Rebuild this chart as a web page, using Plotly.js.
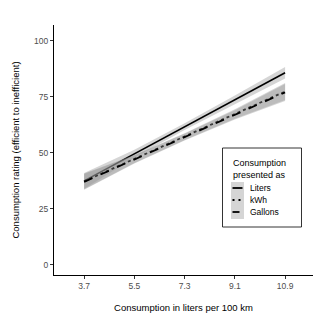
<!DOCTYPE html>
<html>
<head>
<meta charset="utf-8">
<script src="https://cdn.plot.ly/plotly-3.0.1.min.js"></script>
<style>html,body{margin:0;padding:0;background:#fff;}#chart{width:323px;height:322px;}</style>
</head>
<body>
<div id="chart"></div>
<script>
const xVals = [3.7, 5.5, 7.3, 9.1, 10.9];
const tickLabels = ["3.7", "5.5", "7.3", "9.1", "10.9"];
const litersMean = [37.5, 49.6, 61.7, 73.7, 85.8];
const litersLow = [34.0, 47.8, 60.2, 71.8, 83.2];
const litersHigh = [41.0, 51.4, 63.2, 75.6, 88.4];
const kwhMean = [37.3, 47.3, 57.3, 67.4, 77.4];
const kwhLow = [33.8, 45.5, 55.8, 65.3, 73.6];
const kwhHigh = [40.8, 49.1, 58.8, 69.5, 81.2];
const gallonsMean = [37.1, 47.1, 57.0, 67.0, 77.0];
const gallonsLow = [33.6, 45.3, 55.5, 64.9, 73.2];
const gallonsHigh = [40.6, 48.9, 58.5, 69.1, 80.8];
const seriesNames = ["Liters", "kWh", "Gallons"];
const seriesDash = ['solid', 'dot', 'dash'];
const legendTitle = 'Consumption<br>presented as';

const band = 'rgba(150,150,150,0.4)';
function series(name, mean, low, high, dash, width) {
  return [
    {x: xVals, y: low, mode: 'lines', line: {width: 0}, showlegend: false, hoverinfo: 'skip'},
    {x: xVals, y: mean, mode: 'lines', name: name, fill: 'tonexty', fillcolor: band,
     line: {color: '#000', width: width, dash: dash}, showlegend: false},
    {x: xVals, y: high, mode: 'lines', line: {width: 0}, fill: 'tonexty', fillcolor: band,
     showlegend: false, hoverinfo: 'skip'}
  ];
}
const data = [].concat(
  series(seriesNames[0], litersMean, litersLow, litersHigh, seriesDash[0], 1.6),
  series(seriesNames[1], kwhMean, kwhLow, kwhHigh, seriesDash[1], 1.8),
  series(seriesNames[2], gallonsMean, gallonsLow, gallonsHigh, seriesDash[2], 1.8)
);

// custom legend (pixel helpers -> paper coords)
const L = 54, PW = 259, B = 275, PH = 250;
const px = v => (v - L) / PW;
const py = v => (B - v) / PH;
const shapes = [
  {type: 'rect', xref: 'paper', yref: 'paper', x0: px(222.5), x1: px(301.5), y0: py(148), y1: py(227),
   line: {color: '#000', width: 0.8}, fillcolor: '#fff', layer: 'above'},
  {type: 'rect', xref: 'paper', yref: 'paper', x0: px(231), x1: px(244), y0: py(182), y1: py(219),
   line: {width: 0}, fillcolor: 'rgba(150,150,150,0.4)', layer: 'above'}
];
const annotations = [
  {xref: 'paper', yref: 'paper', x: px(231), y: py(156), xanchor: 'left', yanchor: 'top',
   text: legendTitle, showarrow: false, align: 'left', font: {size: 9, color: '#000'}}
];
const keyY = [188, 200, 212];
seriesNames.forEach((n, i) => {
  shapes.push({type: 'line', xref: 'paper', yref: 'paper', x0: px(232.5), x1: px(242.5), y0: py(keyY[i]), y1: py(keyY[i]),
    line: {color: '#000', width: seriesDash[i] === 'dot' ? 1.8 : 1.8, dash: seriesDash[i] === 'dot' ? '2px,4px' : (seriesDash[i] === 'dash' ? '7px,3px' : 'solid')}, layer: 'above'});
  annotations.push({xref: 'paper', yref: 'paper', x: px(248), y: py(keyY[i]), xanchor: 'left', yanchor: 'middle',
    text: n, showarrow: false, font: {size: 8.5, color: '#000'}});
});

const layout = {
  width: 323, height: 322,
  margin: {l: 54, r: 10, t: 25, b: 47},
  paper_bgcolor: '#fff', plot_bgcolor: '#fff',
  font: {family: 'Liberation Sans, Arial, sans-serif', size: 9, color: '#000'},
  xaxis: {
    range: [2.62, 11.9], tickvals: xVals, ticktext: tickLabels,
    showgrid: false, zeroline: false, showline: true, linecolor: '#000', linewidth: 1,
    ticks: 'outside', ticklen: 3, tickcolor: '#333', tickwidth: 1,
    tickfont: {size: 8.5, color: '#4d4d4d'},
    title: {text: 'Consumption in liters per 100 km', font: {size: 9.5, color: '#000'}, standoff: 14}
  },
  yaxis: {
    range: [-4.5, 107.1], tickvals: [0, 25, 50, 75, 100],
    showgrid: false, zeroline: false, showline: true, linecolor: '#000', linewidth: 1,
    ticks: 'outside', ticklen: 3, tickcolor: '#333', tickwidth: 1,
    tickfont: {size: 8.5, color: '#4d4d4d'},
    title: {text: 'Consumption rating (efficient to inefficient)', font: {size: 9.5, color: '#000'}, standoff: 12}
  },
  showlegend: false,
  shapes: shapes,
  annotations: annotations
};
Plotly.newPlot('chart', data, layout, {displayModeBar: false, staticPlot: true});
</script>
</body>
</html>
